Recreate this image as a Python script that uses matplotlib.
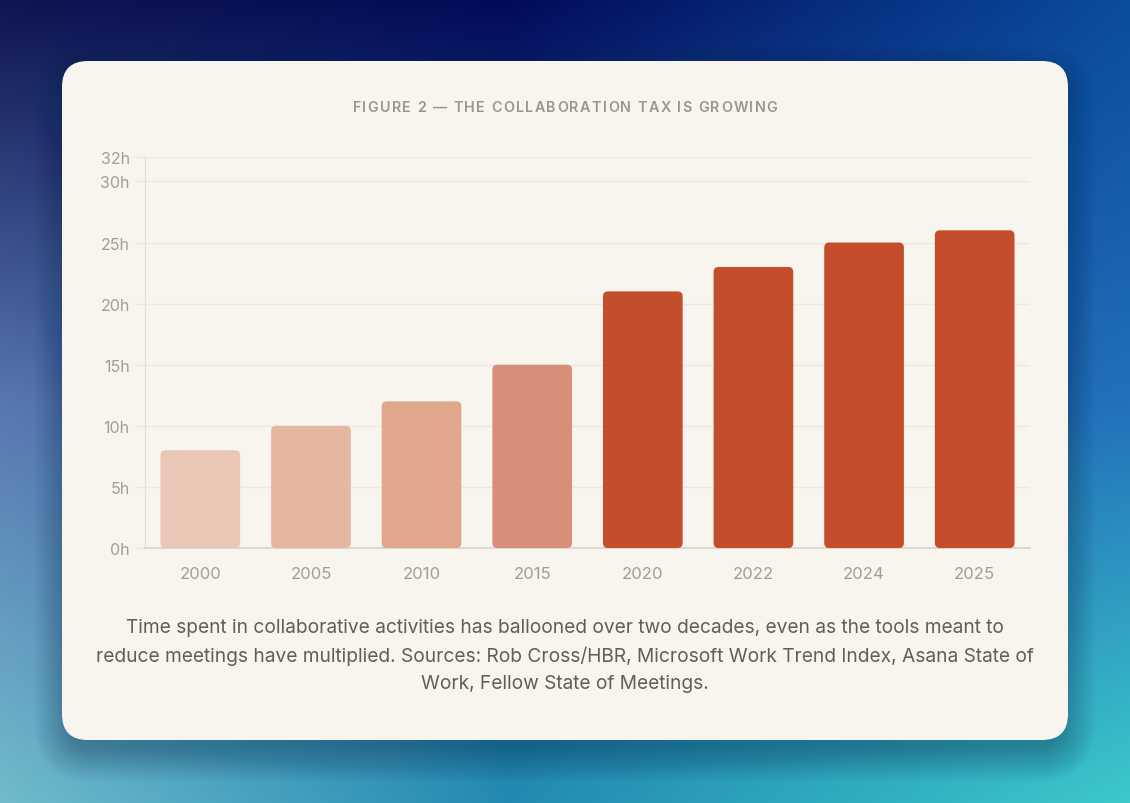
import numpy as np
import matplotlib
matplotlib.use("Agg")
import matplotlib.pyplot as plt
from matplotlib.patches import FancyBboxPatch

# ---------------- data ----------------
years = ["2000", "2005", "2010", "2015", "2020", "2022", "2024", "2025"]
hours = [8, 10, 12, 15, 21, 23, 25, 26]
bar_colors = ["#E9C6B6", "#E5B6A0", "#E0A78C", "#D88F7A",
              "#C44E2C", "#C44E2C", "#C44E2C", "#C44E2C"]
ytick_vals = [0, 5, 10, 15, 20, 25, 30, 32]
ytick_labels = [f"{v}h" for v in ytick_vals]
title = "FIGURE 2 — THE COLLABORATION TAX IS GROWING"
caption = ("Time spent in collaborative activities has ballooned over two decades, even as the tools meant to\n"
           "reduce meetings have multiplied. Sources: Rob Cross/HBR, Microsoft Work Trend Index, Asana State of\n"
           "Work, Fellow State of Meetings.")

plt.rcParams['font.family'] = ['Inter', 'DejaVu Sans']

W, H = 1130, 804
fig = plt.figure(figsize=(W / 100, H / 100), dpi=100)

# ---------------- background ----------------
bg = fig.add_axes([0, 0, 1, 1])
bg.set_xlim(0, W)
bg.set_ylim(H, 0)
bg.axis("off")

ctrl_x = [0.0, 0.45, 1.0]
ctrl_y = [0.0, 0.5, 1.0]
G = np.array([
    [(14, 20, 80), (2, 10, 88), (10, 76, 158)],
    [(88, 118, 176), (40, 92, 170), (34, 112, 186)],
    [(112, 188, 204), (34, 138, 178), (60, 202, 202)],
], dtype=float) / 255.0
xs = np.linspace(0, 1, W)
ys = np.linspace(0, 1, H)
img = np.zeros((H, W, 3))
wy = np.array([np.interp(ys, ctrl_y, np.eye(3)[k]) for k in range(3)])  # 3 x H
for c in range(3):
    rows = np.array([np.interp(xs, ctrl_x, G[r, :, c]) for r in range(3)])  # 3 x W
    img[:, :, c] = wy.T @ rows
bg.imshow(np.clip(img, 0, 1), extent=(0, W, H, 0), aspect="auto", zorder=0)

# card shadow (soft, mostly below)
cx0, cy0, cx1, cy1 = 62, 62, 1068, 741
for i in range(16):
    e = i * 2.2
    sh = FancyBboxPatch((cx0 - e + 6, cy0 - e + 18), (cx1 - cx0) + 2 * e - 12, (cy1 - cy0) + 2 * e - 10,
                        boxstyle=f"round,pad=0,rounding_size={26 + e}",
                        facecolor="#0A2A48", edgecolor="none", alpha=0.022, zorder=1)
    bg.add_patch(sh)

card = FancyBboxPatch((cx0, cy0), cx1 - cx0, cy1 - cy0,
                      boxstyle="round,pad=0,rounding_size=26",
                      facecolor="#F8F4EE", edgecolor="none", zorder=2)
bg.add_patch(card)

# spaced title
def spaced_text(ax, s, xc, y, spacing, **kw):
    r = fig.canvas.get_renderer()
    def width(t):
        tt = ax.text(0, 0, t, **kw)
        w = tt.get_window_extent(renderer=r).width
        tt.remove()
        return w
    wI = width("I")
    offs = [width(s[:i] + "I") - wI if i > 0 else 0.0 for i in range(len(s))]
    total = width(s) + spacing * (len(s) - 1)
    x0 = xc - total / 2
    for i, ch in enumerate(s):
        if ch == " ":
            continue
        ax.text(x0 + offs[i] + i * spacing, y, ch, ha="left", va="center", **kw)

spaced_text(bg, title, 565, 108, 1.4, fontsize=10.3, color="#9B958D",
            fontweight="semibold", zorder=5)

bg.text(565, 656, caption, ha="center", va="center", fontsize=13.8, color="#625D57",
        linespacing=1.6, zorder=5)

# ---------------- chart ----------------
ax = fig.add_axes([145 / W, (H - 549) / H, (1030 - 145) / W, (549 - 158) / H])
ax.set_facecolor("none")
x = np.arange(len(years))
bars = ax.bar(x, hours, width=0.72, color=bar_colors)
ax.set_xlim(-0.5, len(years) - 0.5)
ax.set_ylim(0, 32)

px_x = (1030 - 145) / len(years)
px_y = (549 - 158) / 32.0
rad_px = 5.0
for b in bars:
    bx, by = b.get_x(), b.get_y()
    bw, bh = b.get_width(), b.get_height()
    col = b.get_facecolor()
    b.remove()
    p = FancyBboxPatch((bx, by), bw, bh,
                       boxstyle=f"round,pad=0,rounding_size={rad_px / px_x}",
                       mutation_aspect=px_x / px_y,
                       facecolor=col, edgecolor="none", zorder=3)
    ax.add_patch(p)

ax.set_xticks(x)
ax.set_xticklabels(years)
ax.set_yticks(ytick_vals)
ax.set_yticklabels(ytick_labels)
grid_c = "#EEE8E0"
ax.yaxis.grid(True, color=grid_c, lw=1)
ax.set_axisbelow(True)
ax.tick_params(axis="y", length=7, width=1, color=grid_c, pad=4,
               labelsize=11.5, labelcolor="#A39D96")
ax.tick_params(axis="x", length=0, pad=13, labelsize=12, labelcolor="#A39D96")
for s in ["top", "right"]:
    ax.spines[s].set_visible(False)
ax.spines["left"].set_color("#E3DDD5")
ax.spines["bottom"].set_color("#D8D2CA")
ax.spines["bottom"].set_linewidth(1.2)

fig.savefig("out.png", dpi=100)
